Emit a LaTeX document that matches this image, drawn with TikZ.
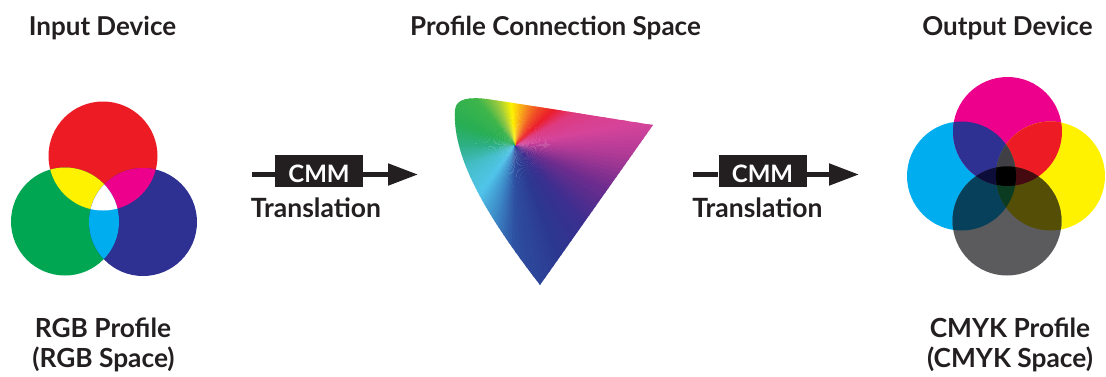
\documentclass[tikz,border=0pt]{standalone}
\usepackage{fontspec}
\setmainfont{Lato}
\usetikzlibrary{arrows.meta}
\definecolor{txt}{HTML}{231F20}
\definecolor{cR}{HTML}{ED1C24}
\definecolor{cG}{HTML}{00A651}
\definecolor{cB}{HTML}{2E3192}
\definecolor{cY}{HTML}{FFF200}
\definecolor{cM}{HTML}{EC008C}
\definecolor{cC}{HTML}{00AEEF}
\definecolor{cK}{HTML}{5B5B5D}
\definecolor{cCK}{HTML}{07405A}
\definecolor{cMK}{HTML}{4A0A30}
\definecolor{cYK}{HTML}{544E07}
\definecolor{cCMY}{HTML}{3F3F45}
\definecolor{cCMK}{HTML}{0D0D3A}
\definecolor{cMYK}{HTML}{450A0F}
\definecolor{cCYK}{HTML}{0B3B20}
\definecolor{cAll}{HTML}{000000}
% gamut stops
\definecolor{s01}{HTML}{2DAF84}
\definecolor{s02}{HTML}{45BEC8}
\definecolor{s03}{HTML}{50C4EA}
\definecolor{s04}{HTML}{3D8AC8}
\definecolor{s05}{HTML}{2E4FA0}
\definecolor{s06}{HTML}{2B3990}
\definecolor{s07}{HTML}{3A2F8F}
\definecolor{s08}{HTML}{6E2C8E}
\definecolor{s09}{HTML}{B03A96}
\definecolor{s10}{HTML}{D6449A}
\definecolor{s11}{HTML}{DE3A80}
\definecolor{s12}{HTML}{EC1C2C}
\definecolor{s13}{HTML}{F04E23}
\definecolor{s14}{HTML}{F7941D}
\definecolor{s15}{HTML}{FFF200}
\definecolor{s16}{HTML}{9BCA3E}
\definecolor{s17}{HTML}{3DB54A}
\definecolor{s18}{HTML}{27AE55}
\begin{document}
\begin{tikzpicture}[x=1pt,y=-1pt,
  heading/.style={font=\fontsize{26}{30}\selectfont\bfseries, text=txt, anchor=base, inner sep=0pt},
  sublabel/.style={font=\fontsize{26.3}{30}\selectfont\bfseries, text=txt, anchor=base, inner sep=0pt},
  trlabel/.style={font=\fontsize{26.5}{30}\selectfont\bfseries, text=txt, anchor=base, inner sep=0pt},
  cmmbox/.style={fill=txt, text=white, minimum width=88pt, minimum height=32pt, inner sep=0pt,
    text height=23.2pt, text depth=0pt, font=\fontsize{24}{26}\selectfont\bfseries},
  flow/.style={draw=txt, line width=5pt},
  flowtip/.style={flow, -{Triangle[length=30pt,width=21pt]}}
]
\useasboundingbox (0,0) rectangle (1106,376);

% ---------- RGB circles ----------
\def\Rc{(103,156) circle (54.5pt)}
\def\Gc{(65,221.5) circle (54pt)}
\def\Bc{(143,222) circle (54pt)}
\fill[cR] \Rc; \fill[cG] \Gc; \fill[cB] \Bc;
\begin{scope}\clip \Rc; \fill[cY] \Gc; \fill[cM] \Bc; \end{scope}
\begin{scope}\clip \Gc; \fill[cC] \Bc; \end{scope}
\begin{scope}\clip \Rc; \clip \Gc; \fill[white] \Bc; \end{scope}

% ---------- CMYK circles ----------
\def\Mc{(1007.5,131.5) circle (54.5pt)}
\def\Cc{(961.5,176) circle (54.5pt)}
\def\Yc{(1050.5,176) circle (54.5pt)}
\def\Kc{(1007,221) circle (54.5pt)}
\fill[cC] \Cc; \fill[cM] \Mc; \fill[cY] \Yc; \fill[cK] \Kc;
\begin{scope}\clip \Cc; \fill[cB] \Mc; \end{scope}
\begin{scope}\clip \Mc; \fill[cR] \Yc; \end{scope}
\begin{scope}\clip \Cc; \fill[cG] \Yc; \end{scope}
\begin{scope}\clip \Cc; \fill[cCK] \Kc; \end{scope}
\begin{scope}\clip \Mc; \fill[cMK] \Kc; \end{scope}
\begin{scope}\clip \Yc; \fill[cYK] \Kc; \end{scope}
\begin{scope}\clip \Cc; \clip \Mc; \fill[cCMY] \Yc; \end{scope}
\begin{scope}\clip \Cc; \clip \Mc; \fill[cCMK] \Kc; \end{scope}
\begin{scope}\clip \Mc; \clip \Yc; \fill[cMYK] \Kc; \end{scope}
\begin{scope}\clip \Cc; \clip \Yc; \fill[cCYK] \Kc; \end{scope}
\begin{scope}\clip \Cc; \clip \Mc; \clip \Yc; \fill[cAll] \Kc; \end{scope}

% ---------- Profile connection space gamut ----------
\coordinate (gc) at (515,145);
\begin{scope}
\clip (540,285) .. controls (490,220) and (452,160) .. (455,110)
      .. controls (456,98) and (470,97) .. (487,99)
      .. controls (560,110) and (620,120) .. (653,125) -- cycle;
\foreach \a/\b/\ca/\cb in {-180/-155/s01/s02, -155/-125/s02/s03, -125/-105/s03/s04,
    -105/-90/s04/s05, -90/-70/s05/s06, -70/-50/s06/s07, -50/-25/s07/s08,
    -25/-5/s08/s09, -5/10/s09/s10, 10/28/s10/s11, 28/42/s11/s12, 42/58/s12/s13,
    58/75/s13/s14, 75/95/s14/s15, 95/112/s15/s16, 112/130/s16/s17,
    130/160/s17/s18, 160/180/s18/s01}{
  \foreach \k in {0,...,7}{
    \pgfmathsetmacro\s{\a+(\b-\a)*\k/8}
    \pgfmathsetmacro\e{\a+(\b-\a)*(\k+1)/8+0.6}
    \pgfmathtruncatemacro\p{(\k+0.5)*100/8}
    \fill[fill=\cb!\p!\ca] (gc) -- ({515+200*cos(\s)},{145-200*sin(\s)})
       -- ({515+200*cos(\e)},{145-200*sin(\e)}) -- cycle;
  }
}
\end{scope}

% ---------- headings ----------
\node[heading] (hin) at (102.5,35) {Input Device};
\node[heading] (hpcs) at (555.5,35) {Profile Connection Space};
\node[heading] (hout) at (1007.5,35) {Output Device};

\node[sublabel] (rgb1) at (103,337) {RGB Profile};
\node[sublabel] (rgb2) at (103.5,367) {(RGB Space)};
\node[sublabel] (cmyk1) at (1010,337) {CMYK Profile};
\node[sublabel] (cmyk2) at (1010,367) {(CMYK Space)};

% ---------- CMM arrows ----------
\coordinate (a1s) at (252,174.5);
\coordinate (a1e) at (418,174.5);
\node[cmmbox] (cmm1) at (319,171) {CMM};
\draw[flow] (a1s) -- (a1s -| cmm1.west);
\draw[flowtip] (cmm1.east |- a1s) -- (a1e);
\node[trlabel] (tr1) at (316,217) {Translation};

\coordinate (a2s) at (693,174.5);
\coordinate (a2e) at (859,174.5);
\node[cmmbox] (cmm2) at (762.5,171) {CMM};
\draw[flow] (a2s) -- (a2s -| cmm2.west);
\draw[flowtip] (cmm2.east |- a2s) -- (a2e);
\node[trlabel] (tr2) at (757.5,217) {Translation};
\end{tikzpicture}
\end{document}
